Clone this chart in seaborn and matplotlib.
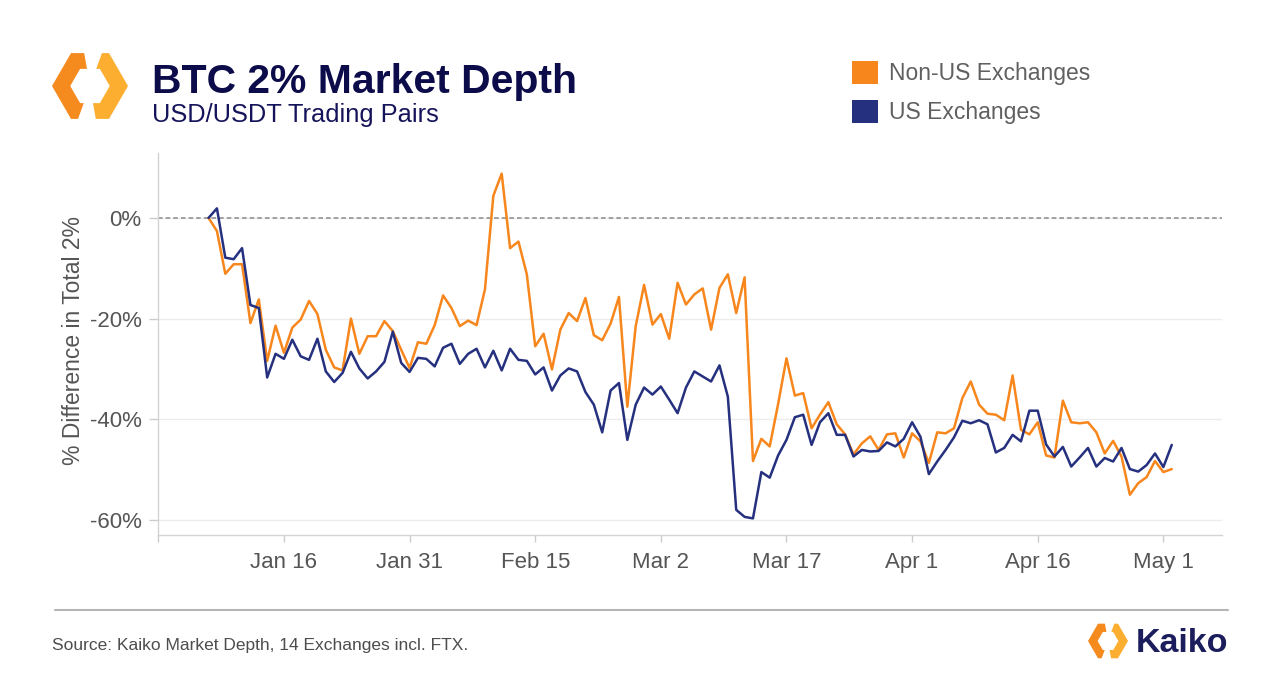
import numpy as np
import pandas as pd
import matplotlib
matplotlib.use("Agg")
import matplotlib.pyplot as plt
import seaborn as sns
from matplotlib.patches import Polygon, Patch

# ---------------- data ----------------
dates = pd.date_range("2022-01-07", "2022-05-02", freq="D")

non_us = [
    0, -2.6, -11.1, -9.2, -9.2, -20.9, -16.2, -28.4, -21.4, -26.8,
    -21.8, -20.2, -16.5, -19.1, -26.2, -29.7, -30.3, -20.0, -27.0, -23.5,
    -23.5, -20.5, -22.5, -26.2, -29.8, -24.7, -25.0, -21.3, -15.4, -17.9,
    -21.5, -20.4, -21.3, -14.2, 4.4, 8.8, -6.0, -4.7, -11.2, -25.5,
    -23.0, -30.1, -22.2, -18.9, -20.5, -15.9, -23.3, -24.3, -21.0, -15.7,
    -37.5, -21.5, -13.3, -21.2, -19.1, -24.0, -12.9, -17.2, -15.2, -14.0,
    -22.2, -13.9, -11.2, -18.9, -11.8, -48.3, -43.9, -45.4, -37.0, -27.9,
    -35.3, -34.8, -41.8, -39.1, -36.6, -41.0, -43.0, -47.0, -44.8, -43.4,
    -46.1, -43.0, -42.8, -47.6, -42.8, -44.4, -48.7, -42.6, -42.8, -41.8,
    -35.8, -32.5, -37.1, -38.9, -39.1, -40.2, -31.3, -42.1, -43.0, -40.6,
    -47.2, -47.6, -36.3, -40.6, -40.8, -40.6, -42.6, -46.8, -44.3, -47.4,
    -55.0, -52.7, -51.5, -48.3, -50.5, -49.9,
]

us = [
    0, 1.9, -7.9, -8.2, -6.0, -17.3, -17.9, -31.7, -27.0, -28.0,
    -24.2, -27.5, -28.2, -24.0, -30.5, -32.6, -30.8, -26.6, -29.9, -31.9,
    -30.5, -28.6, -22.6, -28.8, -30.6, -27.8, -28.0, -29.5, -25.8, -25.0,
    -29.0, -27.0, -26.0, -29.7, -26.4, -30.3, -26.0, -28.2, -28.4, -31.1,
    -29.7, -34.3, -31.3, -29.9, -30.5, -34.6, -37.1, -42.6, -34.3, -32.8,
    -44.1, -37.1, -33.7, -35.1, -33.5, -36.1, -38.8, -33.7, -30.5, -31.5,
    -32.5, -29.3, -35.5, -58.0, -59.4, -59.7, -50.5, -51.6, -47.2, -44.1,
    -39.6, -39.1, -45.1, -40.6, -38.8, -43.1, -43.1, -47.4, -46.1, -46.4,
    -46.3, -44.6, -45.4, -43.9, -40.6, -43.5, -50.9, -48.4, -46.1, -43.6,
    -40.3, -40.8, -40.2, -41.0, -46.6, -45.7, -43.1, -44.4, -38.3, -38.3,
    -45.0, -47.4, -45.5, -49.4, -47.6, -45.7, -49.4, -47.7, -48.4, -45.7,
    -49.9, -50.4, -49.1, -46.8, -49.5, -45.1,
]

series_names = ["Non-US Exchanges", "US Exchanges"]
tick_dates = ["2022-01-01", "2022-01-16", "2022-01-31", "2022-02-15", "2022-03-02",
              "2022-03-17", "2022-04-01", "2022-04-16", "2022-05-01"]
tick_labels = ["", "Jan 16", "Jan 31", "Feb 15", "Mar 2", "Mar 17", "Apr 1", "Apr 16", "May 1"]
y_ticks = [-60, -40, -20, 0]
y_tick_labels = ["-60%", "-40%", "-20%", "0%"]

ORANGE = "#F7861C"
NAVY = "#25307E"
palette = {series_names[0]: ORANGE, series_names[1]: NAVY}

df = pd.concat([
    pd.DataFrame({"date": dates, "value": non_us, "series": series_names[0]}),
    pd.DataFrame({"date": dates, "value": us, "series": series_names[1]}),
], ignore_index=True)

# ---------------- style ----------------
sns.set_theme(style="white")
plt.rcParams["font.family"] = ["Liberation Sans", "DejaVu Sans"]

W, H = 1280, 690
fig = plt.figure(figsize=(W / 100, H / 100), dpi=100)
fig.patch.set_facecolor("white")

# decoration layer in pixel coordinates
deco = fig.add_axes([0, 0, 1, 1])
deco.set_xlim(0, W)
deco.set_ylim(H, 0)
deco.axis("off")
deco.set_zorder(0)

L, R_, T, B = 158.3, 1222, 153, 535
ax = fig.add_axes([L / W, (H - B) / H, (R_ - L) / W, (B - T) / H])
ax.set_zorder(1)
ax.patch.set_alpha(0)

sns.lineplot(data=df, x="date", y="value", hue="series", hue_order=series_names,
             palette=palette, linewidth=1.8, legend=False, ax=ax, estimator=None)

ax.set_xlim(pd.Timestamp("2022-01-01"), pd.Timestamp("2022-05-08"))
ax.set_ylim(-63, 12.9)
ax.set_xticks(pd.to_datetime(tick_dates))
ax.set_xticklabels(tick_labels)
ax.set_yticks(y_ticks)
ax.set_yticklabels(y_tick_labels)
ax.set_xlabel("")
ax.set_ylabel("% Difference in Total 2%", fontsize=16.5, color="#555555")
ax.yaxis.set_label_coords(-0.0685, 0.509)

ax.grid(axis="y", color="#ececec", linewidth=1)
ax.grid(axis="x", visible=False)
ax.set_axisbelow(True)
ax.axhline(0, color="#8a8a8a", linewidth=1.1, linestyle=(0, (3, 2)), zorder=1.5)

sns.despine(ax=ax)
for s in ["left", "bottom"]:
    ax.spines[s].set_color("#d4d4d4")
    ax.spines[s].set_linewidth(1.0)
ax.tick_params(axis="x", length=5, width=1, color="#cccccc", pad=7.5,
               labelsize=16, labelcolor="#555555", bottom=True)
ax.tick_params(axis="y", length=6.5, width=1, color="#cccccc", pad=5.5,
               labelsize=16, labelcolor="#555555", left=True)

# legend
handles = [Patch(facecolor=ORANGE, edgecolor="none"), Patch(facecolor=NAVY, edgecolor="none")]
fig.legend(handles, series_names, loc="upper left", bbox_to_anchor=(852 / W, 1 - 61 / H),
           frameon=False, fontsize=16.5, labelcolor="#606060", handlelength=1.15,
           handleheight=1.2, handletextpad=0.45, labelspacing=0.62,
           borderpad=0, borderaxespad=0)

# ---------------- header / footer ----------------
def hex_band(cx, cy, R, ratio, a1, a2, color):
    def pt(theta, rad):
        d = rad * np.cos(np.radians(30)) / np.cos(np.radians((theta % 60) - 30))
        t = np.radians(theta)
        return (cx + d * np.cos(t), cy - d * np.sin(t))
    mids = [a for a in range(int(np.ceil(a1 / 60)) * 60, int(a2) + 1, 60) if a1 < a < a2]
    angles = [a1] + mids + [a2]
    outer = [pt(a, R) for a in angles]
    inner = [pt(a, R * ratio) for a in reversed(angles)]
    deco.add_patch(Polygon(outer + inner, closed=True, facecolor=color, edgecolor="none"))

def kaiko_icon(cx, cy, R):
    hex_band(cx, cy, R, 0.52, 100, 250, "#F58A1F")
    hex_band(cx, cy, R, 0.52, 280, 430, "#FBAE30")

kaiko_icon(90, 86, 38)
deco.text(152, 93.3, "BTC 2% Market Depth", fontsize=29.4, fontweight="bold",
          color="#0D0C4A", ha="left", va="baseline")
deco.text(152, 122, "USD/USDT Trading Pairs", fontsize=18.3, color="#15145A",
          ha="left", va="baseline")

deco.plot([55, 1228], [610, 610], color="#b5b5b5", linewidth=1.5)
deco.text(52, 650, "Source: Kaiko Market Depth, 14 Exchanges incl. FTX.", fontsize=12.5,
          color="#4d4d4d", ha="left", va="baseline")
kaiko_icon(1108, 641, 20)
deco.text(1136, 652, "Kaiko", fontsize=24.5, fontweight="bold", color="#1B1D5C",
          ha="left", va="baseline")

fig.savefig("out.png", dpi=100, facecolor="white")
